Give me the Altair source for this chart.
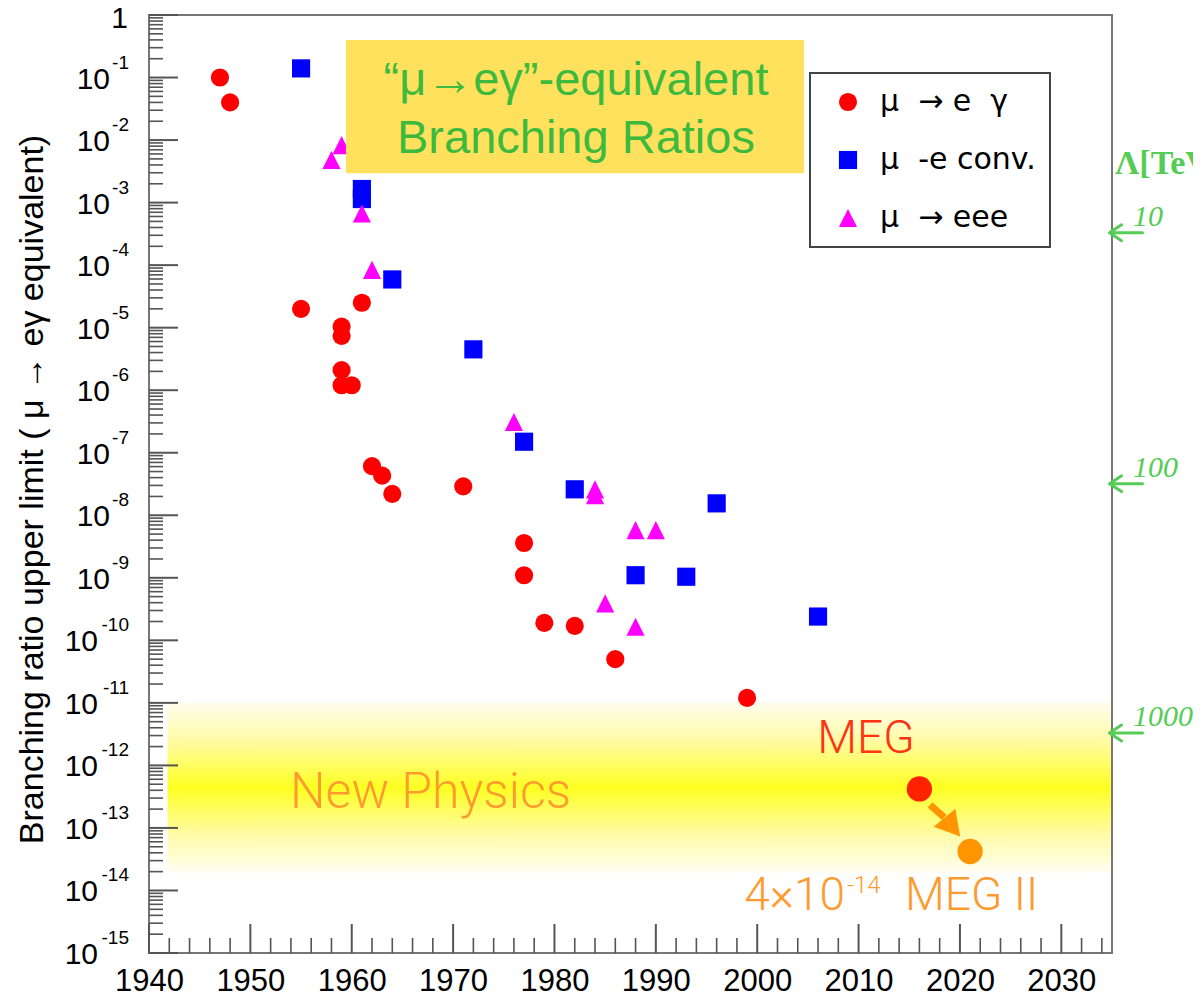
import altair as alt
import pandas as pd

# ---------------- data ----------------
SERIES = ["μ\u00a0\u00a0→ e\u00a0\u00a0γ", "μ\u00a0\u00a0-e conv.", "μ\u00a0\u00a0→ eee"]

MEG_YEARS = [1947, 1948, 1955, 1959, 1959, 1959, 1959, 1960, 1961, 1962, 1963, 1964,
             1971, 1977, 1977, 1979, 1982, 1986, 1999]
MEG_VALUES = [1.0e-1, 4.0e-2, 2.0e-5, 1.04e-5, 7.4e-6, 2.1e-6, 1.2e-6, 1.2e-6, 2.5e-5,
              6.1e-8, 4.3e-8, 2.2e-8, 2.9e-8, 3.6e-9, 1.1e-9, 1.9e-10, 1.7e-10, 5.0e-11, 1.2e-11]

CONV_YEARS = [1955, 1961, 1961, 1964, 1972, 1977, 1982, 1988, 1993, 1996, 2006]
CONV_VALUES = [1.4e-1, 1.65e-3, 1.14e-3, 5.9e-5, 4.5e-6, 1.5e-7, 2.6e-8, 1.1e-9, 1.04e-9,
               1.55e-8, 2.4e-10]

EEE_YEARS = [1958, 1959, 1961, 1962, 1976, 1984, 1984, 1985, 1988, 1990, 1988]
EEE_VALUES = [4.8e-3, 8.3e-3, 6.7e-4, 8.4e-5, 3.1e-7, 2.6e-8, 2.1e-8, 3.9e-10, 5.8e-9,
              5.8e-9, 1.65e-10]

MEG_RESULT_YEARS = [2016, 2021]
MEG_RESULT_VALUES = [4.2e-13, 4.2e-14]
MEG_RESULT_COLORS = ["#ff2200", "#ff9500"]

# arrow MEG -> MEG II (data units)
ARROW_FROM = (2017.05, 2.33e-13)
ARROW_TO = (2018.45, 1.47e-13)
ARROW_HEAD = (2019.25, 1.03e-13)

# axis structure
X_DOMAIN = [1940, 2035]
Y_DOMAIN = [1e-15, 1]
X_MAJOR = [1940, 1950, 1960, 1970, 1980, 1990, 2000, 2010, 2020, 2030]
X_MINOR = [y for y in range(1942, 2035, 2) if y % 10 != 0]
Y_EXPONENTS = [0, -1, -2, -3, -4, -5, -6, -7, -8, -9, -10, -11, -12, -13, -14, -15]
MINOR_MULT = [2, 3, 4, 5, 6, 7, 8, 9]

# Λ [TeV] scale on the right
LAMBDA_LABELS = ["10", "100", "1000"]
LAMBDA_VALUES = [3.3e-4, 3.2e-8, 3.3e-12]

# annotation anchors (data units)
BAND = dict(x=1941.84, x2=2034.9, y=1.03e-11, y2=1.92e-14)
TITLE_BOX = dict(x=1959.43, x2=2004.62, y=0.398, y2=2.94e-3)
TITLE_LINES = ["“μ→eγ”-equivalent", "Branching Ratios"]
TITLE_YEAR = 1982.12
TITLE_VALUES = [0.0526, 0.00621]

W, H = 963, 938

# ---------------- frames ----------------
pts = pd.DataFrame(
    [{"year": x, "value": v, "process": SERIES[0]} for x, v in zip(MEG_YEARS, MEG_VALUES)]
    + [{"year": x, "value": v, "process": SERIES[1]} for x, v in zip(CONV_YEARS, CONV_VALUES)]
    + [{"year": x, "value": v, "process": SERIES[2]} for x, v in zip(EEE_YEARS, EEE_VALUES)]
)

xs = alt.Scale(domain=X_DOMAIN, nice=False, zero=False)
ys = alt.Scale(type="log", domain=Y_DOMAIN, nice=False)

FONT = "Liberation Sans"

AX = alt.Axis(
    values=X_MAJOR, format="d", ticks=False, tickSize=0, domain=False, grid=False,
    labelFontSize=31, labelFont=FONT, labelColor="black", labelPadding=13,
    labelFlush=False, labelOverlap=False, title=None)
AY = alt.Axis(
    labels=False, ticks=False, tickSize=0, domain=False, grid=False, values=[1e-15],
    title="Branching ratio upper limit ( μ → eγ equivalent)",
    titleFontSize=34, titleFont=FONT, titleFontWeight="normal", titleColor="black",
    titleAngle=270, titleX=-107, titleY=474, titleAlign="center",
    titleBaseline="alphabetic")


def X(field="year"):
    return alt.X(f"{field}:Q", scale=xs, axis=AX)


def Y(field="value"):
    return alt.Y(f"{field}:Q", scale=ys, axis=AY)


# New Physics band
band = alt.Chart(pd.DataFrame([BAND])).mark_rect(
    color=alt.Gradient(
        gradient="linear", x1=0, y1=0, x2=0, y2=1,
        stops=[
            alt.GradientStop(offset=0, color="#fffdf0"),
            alt.GradientStop(offset=0.22, color="#fffba8"),
            alt.GradientStop(offset=0.5, color="#ffff22"),
            alt.GradientStop(offset=0.78, color="#fffba8"),
            alt.GradientStop(offset=1, color="#fffdf2"),
        ],
    )
).encode(x=X("x"), x2="x2:Q", y=Y("y"), y2="y2:Q")

# inward ticks
ymaj = pd.DataFrame({"value": [10.0 ** e for e in Y_EXPONENTS]})
ymin = pd.DataFrame({"value": [m * 10.0 ** e for e in Y_EXPONENTS[1:] for m in MINOR_MULT]})
xmaj = pd.DataFrame({"year": X_MAJOR})
xmin = pd.DataFrame({"year": X_MINOR})
TICK = "#555555"
t_ymaj = alt.Chart(ymaj).mark_rule(color=TICK, strokeWidth=2).encode(
    y=Y(), x=alt.value(0), x2=alt.value(29))
t_ymin = alt.Chart(ymin).mark_rule(color=TICK, strokeWidth=1.6).encode(
    y=Y(), x=alt.value(0), x2=alt.value(14))
t_xmaj = alt.Chart(xmaj).mark_rule(color=TICK, strokeWidth=2).encode(
    x=X(), y=alt.value(H), y2=alt.value(H - 29))
t_xmin = alt.Chart(xmin).mark_rule(color=TICK, strokeWidth=1.6).encode(
    x=X(), y=alt.value(H), y2=alt.value(H - 15))

legend = alt.Legend(
    title=None, orient="none", legendX=661, legendY=58, padding=14, symbolOffset=9,
    labelOffset=17, rowPadding=28, symbolSize=330, labelFontSize=30, labelFont="DejaVu Sans",
    labelColor="black", fillColor="white", strokeColor="#444444", labelLimit=400,
    symbolStrokeWidth=0,
)
points = alt.Chart(pts).mark_point(filled=True, opacity=1, size=330, strokeWidth=0).encode(
    x=X(), y=Y(),
    color=alt.Color("process:N", scale=alt.Scale(domain=SERIES,
                    range=["#ff0000", "#0000ff", "#ff00ff"]), legend=legend),
    shape=alt.Shape("process:N", scale=alt.Scale(domain=SERIES,
                    range=["circle", "square", "M0,-1L-1,1L1,1Z"]), legend=legend),
)

megdf = pd.DataFrame({"year": MEG_RESULT_YEARS, "value": MEG_RESULT_VALUES,
                      "c": MEG_RESULT_COLORS})
meg_pts = alt.Chart(megdf).mark_circle(size=640, opacity=1).encode(
    x=X(), y=Y(), color=alt.Color("c:N", scale=None, legend=None))

arr = pd.DataFrame([{"year": ARROW_FROM[0], "value": ARROW_FROM[1],
                     "year2": ARROW_TO[0], "value2": ARROW_TO[1]}])
shaft = alt.Chart(arr).mark_rule(color="#ff9500", strokeWidth=7).encode(
    x=X(), y=Y(), x2="year2:Q", y2="value2:Q")
head = alt.Chart(pd.DataFrame([{"year": ARROW_HEAD[0], "value": ARROW_HEAD[1]}])).mark_point(
    shape="triangle-up", filled=True, size=800, angle=140, color="#ff9500", opacity=1,
    strokeWidth=0).encode(x=X(), y=Y())

# title box
tbox = alt.Chart(pd.DataFrame([TITLE_BOX])).mark_rect(color="#ffe15e").encode(
    x=X("x"), x2="x2:Q", y=Y("y"), y2="y2:Q")
ttext = alt.Chart(pd.DataFrame({"year": [TITLE_YEAR] * 2, "value": TITLE_VALUES,
                                "t": TITLE_LINES})).mark_text(
    font=FONT, fontSize=47, color="#3dba3d", align="center", baseline="alphabetic"
).encode(x=X(), y=Y(), text="t:N")


# annotations
def label(year, value, text, **kw):
    return alt.Chart(pd.DataFrame([{"year": year, "value": value, "t": text}])).mark_text(
        baseline="alphabetic", **kw).encode(x=X(), y=Y(), text="t:N")


newphys = label(1967.77, 2.08e-13, "New Physics", font="Roboto", fontWeight=300,
                fontSize=50, color="#ff9a2e", align="center")
meg_t = label(2010.73, 1.58e-12, "MEG", font="Roboto", fontWeight=300, fontSize=46,
              color="#ff3311", align="center")
megii_a = label(2008.66, 4.87e-15, "4×10", font="Roboto", fontWeight=300, fontSize=46,
                color="#ff9a2e", align="right")
megii_b = label(2008.86, 9.1e-15, "-14", font="Roboto", fontWeight=300, fontSize=24,
                color="#ff9a2e", align="left")
megii_c = label(2014.58, 4.87e-15, "MEG II", font="Roboto", fontWeight=300, fontSize=46,
                color="#ff9a2e", align="left")

# y tick labels as 10^n
one = pd.DataFrame({"year": [X_DOMAIN[0]], "value": [1.0], "t": ["1"]})
short = pd.DataFrame({"year": X_DOMAIN[0], "value": [10.0 ** e for e in Y_EXPONENTS if -10 < e < 0],
                      "t": "10"})
long_ = pd.DataFrame({"year": X_DOMAIN[0], "value": [10.0 ** e for e in Y_EXPONENTS if e <= -10],
                      "t": "10"})
expo = pd.DataFrame({"year": X_DOMAIN[0], "value": [10.0 ** e for e in Y_EXPONENTS if e < 0],
                     "t": [str(e) for e in Y_EXPONENTS if e < 0]})
lab_kw = dict(font=FONT, color="black", align="right", baseline="middle")
l_one = alt.Chart(one).mark_text(fontSize=30, dx=-21, dy=4, **lab_kw).encode(x=X(), y=Y(), text="t:N")
l_short = alt.Chart(short).mark_text(fontSize=30, dx=-39, dy=2, **lab_kw).encode(x=X(), y=Y(), text="t:N")
l_long = alt.Chart(long_).mark_text(fontSize=30, dx=-51, dy=2, **lab_kw).encode(x=X(), y=Y(), text="t:N")
l_exp = alt.Chart(expo).mark_text(fontSize=19, dx=-20, dy=-15, **lab_kw).encode(x=X(), y=Y(), text="t:N")

# Λ scale
GREEN = "#55cc55"
lam = pd.DataFrame({"year": X_DOMAIN[1], "value": LAMBDA_VALUES, "t": LAMBDA_LABELS})
lam_arrows = alt.Chart(lam).mark_point(
    shape="M1,0L-1,0M-0.27,-0.48L-1,0L-0.27,0.48", filled=False, size=1089,
    strokeWidth=3, color=GREEN, opacity=1, xOffset=14, strokeCap="round",
    strokeJoin="round").encode(x=X(), y=Y())
lam_nums = alt.Chart(lam).mark_text(font="Liberation Serif", fontStyle="italic", fontSize=30,
                                    color=GREEN, align="left", baseline="alphabetic",
                                    dx=21, dy=-7).encode(x=X(), y=Y(), text="t:N")
lam_title = label(X_DOMAIN[1], 2.87e-3, "Λ[TeV]", font="Liberation Serif", fontWeight="bold",
                  fontSize=34, color=GREEN, align="left", dx=3)

chart = alt.layer(
    band, t_ymaj, t_ymin, t_xmaj, t_xmin, points, meg_pts, shaft, head, tbox, ttext,
    newphys, meg_t, megii_a, megii_b, megii_c, l_one, l_short, l_long, l_exp,
    lam_arrows, lam_nums, lam_title,
).properties(
    width=W, height=H,
    autosize=alt.AutoSizeParams(type="none"),
    padding={"left": 141, "top": 7, "right": 81, "bottom": 45},
).configure_view(stroke="#777777", strokeWidth=2).configure_legend(strokeWidth=2)

chart.save("out.html", embed_options={"renderer": "svg", "actions": False})
